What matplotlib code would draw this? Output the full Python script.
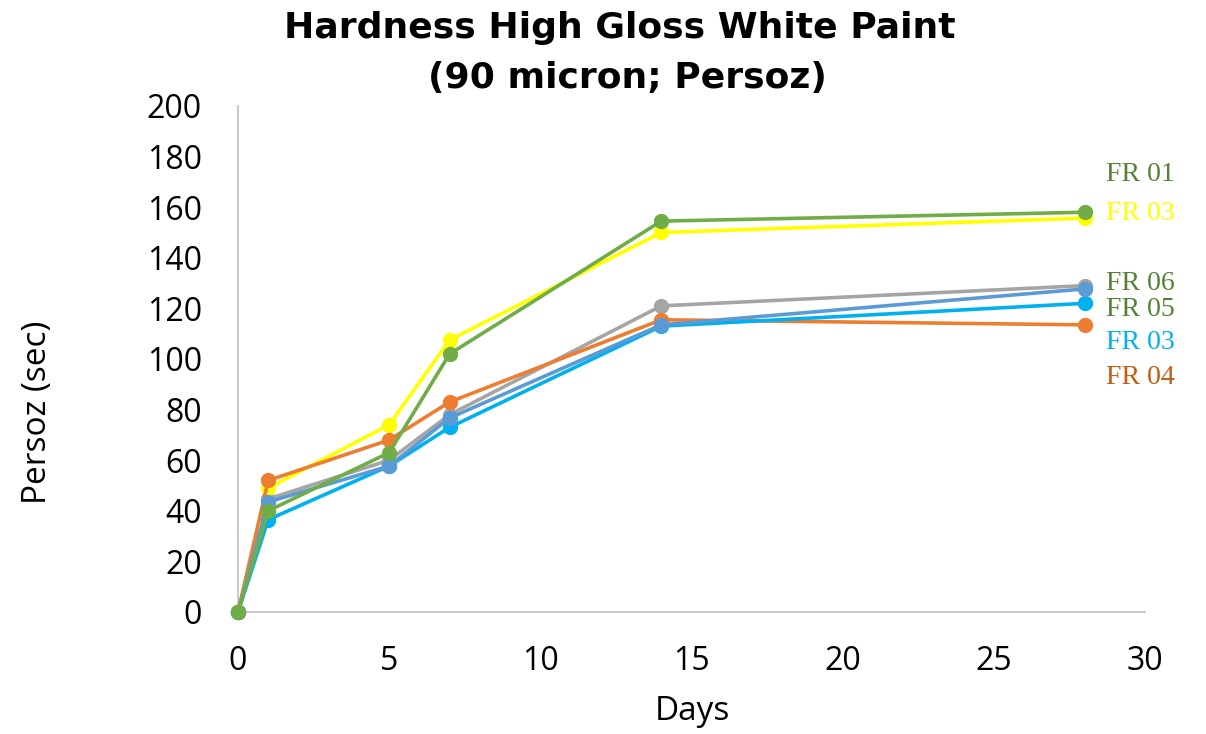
import matplotlib
matplotlib.use("Agg")
import matplotlib.pyplot as plt

days = [0, 1, 5, 7, 14, 28]
gray_vals = [0, 44.7, 60, 78, 121, 129]
yellow_vals = [0, 49, 74, 107.5, 150, 155.7]
orange_vals = [0, 52, 68, 83, 115.5, 113.5]
lightblue_vals = [0, 36.5, 57.7, 73, 113, 122]
blue_vals = [0, 43.5, 57.7, 76.7, 113.5, 127.7]
green_vals = [0, 40, 63, 102, 154.5, 158]

series = [
    (gray_vals, "#A5A5A5"),
    (yellow_vals, "#FFFF00"),
    (orange_vals, "#ED7D31"),
    (lightblue_vals, "#00B0F0"),
    (blue_vals, "#5B9BD5"),
    (green_vals, "#70AD47"),
]

labels = ["FR 01", "FR 03", "FR 06", "FR 05", "FR 03", "FR 04"]
label_y = [173, 157.5, 130, 119.5, 106.5, 92.5]
label_colors = ["#548235", "#FFFF00", "#548235", "#548235", "#00B0F0", "#C55A11"]

sans = ["Open Sans", "DejaVu Sans"]
W, H = 1206, 734

fig = plt.figure(figsize=(12.06, 7.34), dpi=100)
ax = fig.add_axes([238/W, 1-612/H, (1145-238)/W, (612-106)/H])

for vals, c in series:
    ax.plot(days, vals, color=c, lw=2.6, marker="o", ms=10, clip_on=False, zorder=3)

for t, yv, c in zip(labels, label_y, label_colors):
    ax.text(28.72, yv, t, color=c, fontsize=20, family="Liberation Serif",
            va="center", ha="left")

ax.set_xlim(0, 30)
ax.set_ylim(0, 200)
ax.set_xticks(range(0, 31, 5))
ax.set_yticks(range(0, 201, 20))
ax.tick_params(length=0, labelsize=23)
ax.tick_params(axis="x", pad=24)
ax.tick_params(axis="y", pad=26)
for lab in ax.get_xticklabels() + ax.get_yticklabels():
    lab.set_family(sans)
for s in ["top", "right"]:
    ax.spines[s].set_visible(False)
for s in ["left", "bottom"]:
    ax.spines[s].set_color("#BFBFBF")
    ax.spines[s].set_linewidth(1.2)

fig.text(692/W, 1-712/H, "Days", fontsize=24, family=sans, ha="center", va="center")
fig.text(38/W, 1-412/H, "Persoz (sec)", fontsize=24, family=sans, rotation=90,
         ha="center", va="center")
fig.text(620/W, 1-28/H, "Hardness High Gloss White Paint", ha="center", va="center",
         fontsize=26, fontweight="bold")
fig.text(627/W, 1-78/H, "(90 micron; Persoz)", ha="center", va="center",
         fontsize=26, fontweight="bold")

fig.savefig("out.png", dpi=100, facecolor="white")
